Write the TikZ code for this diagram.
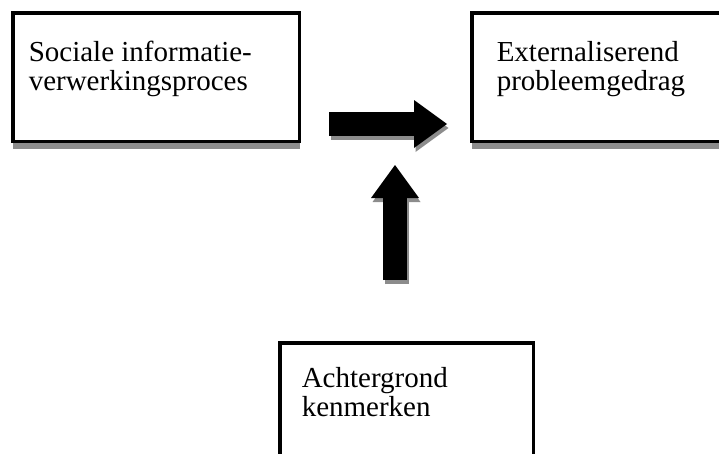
\documentclass[tikz,border=0pt]{standalone}
\usepackage{fontspec}
\setmainfont{Liberation Serif}
\usetikzlibrary{arrows.meta, positioning, shadows}

\begin{document}
\begin{tikzpicture}[
    x=1pt, y=-1pt,
    box/.style={
        draw,
        line width=3.5pt,
        fill=white,
        minimum width=286.5pt,
        minimum height=128.5pt,
        inner ysep=0pt,
        text height=48.25pt,
        text depth=80.25pt,
        align=flush left,
        font=\fontsize{29pt}{29pt}\selectfont,
        drop shadow={shadow xshift=0.5pt, shadow yshift=-7.5pt, fill=black!45, opacity=1}
    },
    blockarrow/.style={
        line width=24pt,
        -{Triangle[length=33pt, width=48pt, line width=0pt]}
    },
    arrowshadow/.style={
        draw=black!45,
        transform canvas={shift={(1.5pt,-4pt)}}
    }
]
\useasboundingbox (0,0) rectangle (719,453);

% Boxes
\node[box, inner xsep=16pt, text width=254.5pt] (proces) at (156,77) {Sociale informatie-\\verwerkingsproces};
\node[box, right=169pt of proces, inner xsep=25pt, text width=236.5pt] (gedrag) {Externaliserend\\probleemgedrag};
\node[box, minimum width=253.5pt, inner xsep=22pt, text width=209.5pt,
      text height=44.25pt, text depth=84.25pt] (achtergrond) at (406.5,407) {Achtergrond\\kenmerken};

% Arrow ends
\coordinate (hstart) at ([shift={(28pt,19pt)}]proces.south east);
\coordinate (hend) at ([shift={(-23pt,19pt)}]gedrag.south west);
\coordinate (vstart) at ([shift={(-11.5pt,61pt)}]achtergrond.north);
\coordinate (vend) at ([shift={(-11.5pt,176pt)}]achtergrond.north);

% Arrows
\draw[blockarrow, arrowshadow] (hstart) -- (hend);
\draw[blockarrow] (hstart) -- (hend);
\draw[blockarrow, arrowshadow] (vstart) -- (vend);
\draw[blockarrow] (vstart) -- (vend);
\end{tikzpicture}
\end{document}
